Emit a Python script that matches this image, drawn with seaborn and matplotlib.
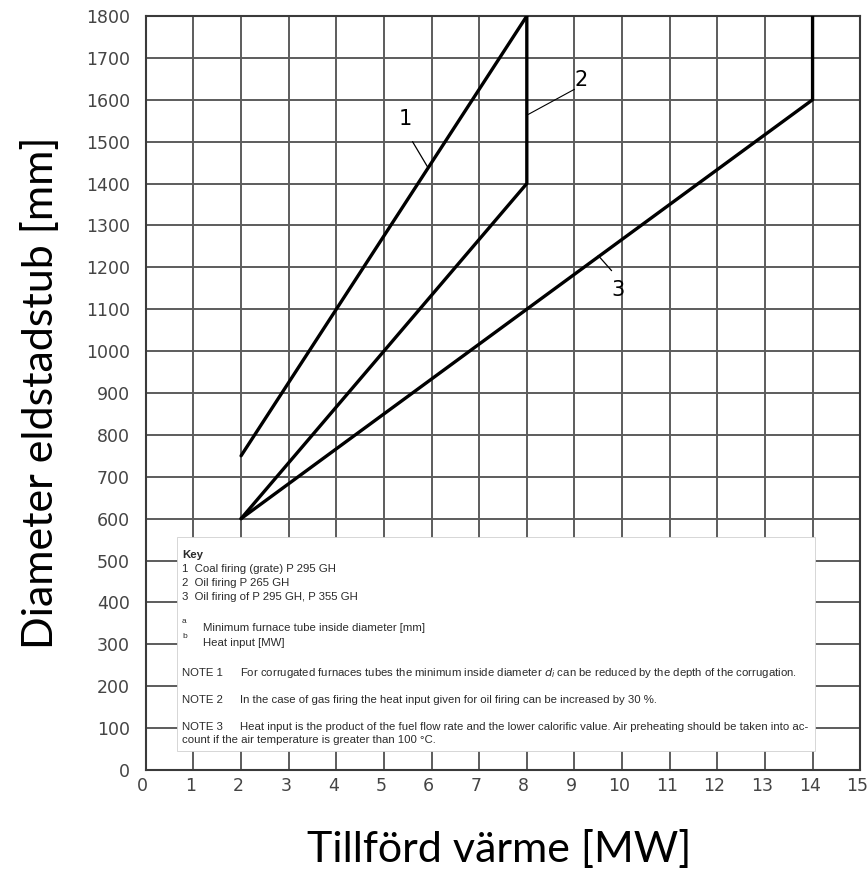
import matplotlib
matplotlib.use("Agg")
import matplotlib.pyplot as plt
import matplotlib.transforms as mtransforms
import seaborn as sns
import pandas as pd
from matplotlib.patches import Rectangle

# Curve vertices: heat input [MW] vs. minimum furnace tube diameter [mm]
curve1_x = [2, 8]
curve1_y = [750, 1800]
curve2_x = [2, 8, 8]
curve2_y = [600, 1400, 1800]
curve3_x = [2, 14, 14]
curve3_y = [600, 1600, 1800]

x_ticks = list(range(0, 16))
y_ticks = list(range(0, 1801, 100))

key_title = "Key"
key_lines = ["1  Coal firing (grate) P 295 GH",
             "2  Oil firing P 265 GH",
             "3  Oil firing of P 295 GH, P 355 GH"]
footnotes = [("a", "Minimum furnace tube inside diameter [mm]"),
             ("b", "Heat input [MW]")]
notes = [("NOTE 1", "For corrugated furnaces tubes the minimum inside diameter $d_i$ can be reduced by the depth of the corrugation."),
         ("NOTE 2", "In the case of gas firing the heat input given for oil firing can be increased by 30 %."),
         ("NOTE 3", "Heat input is the product of the fuel flow rate and the lower calorific value. Air preheating should be taken into ac-")]
note3_cont = "count if the air temperature is greater than 100 °C."

sns.set_theme(style="white")
plt.rcParams["font.family"] = ["DejaVu Sans"]

frames = []
for name, xs, ys in (("1", curve1_x, curve1_y), ("2", curve2_x, curve2_y), ("3", curve3_x, curve3_y)):
    frames.append(pd.DataFrame({"mw": xs, "mm": ys, "curve": name}))
df = pd.concat(frames, ignore_index=True)

fig = plt.figure(figsize=(8.68, 8.69), dpi=100)
ax = fig.add_axes([0.168, 0.114, 0.823, 0.8676])

# Grid
ax.set_xlim(0, 15)
ax.set_ylim(0, 1800)
ax.set_xticks(x_ticks)
ax.set_yticks(y_ticks)
ax.grid(True, color="#5c5c5c", linewidth=1.4, zorder=0)
ax.set_axisbelow(True)

for name in ("1", "2", "3"):
    sub = df[df["curve"] == name]
    sns.lineplot(data=sub, x="mw", y="mm", sort=False, estimator=None,
                 color="black", linewidth=2.4, ax=ax, zorder=3, legend=False)

# Key panel on white background
ax.add_patch(Rectangle((0.65, 45), 14.05 - 0.65, 556 - 45, facecolor="white",
                       edgecolor="#d0d0d0", linewidth=0.6, zorder=4))

tc = "#2a2a2a"
fs = 8.2
lf = "Liberation Sans"
x0 = 0.76
ax.text(x0, 513, key_title, fontsize=fs, fontweight="bold", family=lf, color=tc, va="center", zorder=5)
for y, s in zip([479, 446, 413], key_lines):
    ax.text(x0, y, s, fontsize=fs, family=lf, color=tc, va="center", zorder=5)
for (ys, yt), (sup, s) in zip([(354, 340), (318, 304)], footnotes):
    ax.text(x0, ys, sup, fontsize=fs - 2.2, family=lf, color=tc, va="center", zorder=5)
    ax.text(1.2, yt, s, fontsize=fs, family=lf, color=tc, va="center", zorder=5)
for y, (lab, s) in zip([231, 167, 103], notes):
    ax.text(x0, y, lab, fontsize=fs, family=lf, color=tc, va="center", zorder=5)
    ax.text(1.98, y, s, fontsize=fs, family=lf, color=tc, va="center", zorder=5)
ax.text(x0, 72, note3_cont, fontsize=fs, family=lf, color=tc, va="center", zorder=5)

# Curve labels with leader lines
ax.text(5.45, 1555, "1", fontsize=15, color="black", ha="center", va="center", zorder=5)
ax.plot([5.6, 5.93], [1500, 1437], color="black", linewidth=0.9, zorder=5)
ax.text(9.15, 1648, "2", fontsize=15, color="black", ha="center", va="center", zorder=5)
ax.plot([9.0, 8.03], [1625, 1565], color="black", linewidth=0.8, zorder=5)
ax.text(9.92, 1145, "3", fontsize=15, color="black", ha="center", va="center", zorder=5)
ax.plot([9.78, 9.5], [1192, 1228], color="black", linewidth=0.9, zorder=5)

# Axes styling
for sp in ax.spines.values():
    sp.set_color("#3a3a3a")
    sp.set_linewidth(1.5)
ax.tick_params(axis="both", length=0, labelsize=12.5, labelcolor="#444444")
ax.tick_params(axis="y", pad=11.5)
ax.tick_params(axis="x", pad=5)
shift = mtransforms.ScaledTranslation(-3 / 100, 0, fig.dpi_scale_trans)
for lbl in ax.get_xticklabels():
    lbl.set_transform(lbl.get_transform() + shift)

ax.set_xlabel("Tillförd värme [MW]", fontsize=31, family="Lato", color="black")
ax.set_ylabel("Diameter eldstadstub [mm]", fontsize=31, family="Lato", color="black")
ax.xaxis.label.set_va("baseline")
ax.xaxis.set_label_coords(0.494, -0.122)
ax.yaxis.label.set_va("baseline")
ax.yaxis.set_label_coords(-0.1303, 0.50)

fig.savefig("out.png", dpi=100)
